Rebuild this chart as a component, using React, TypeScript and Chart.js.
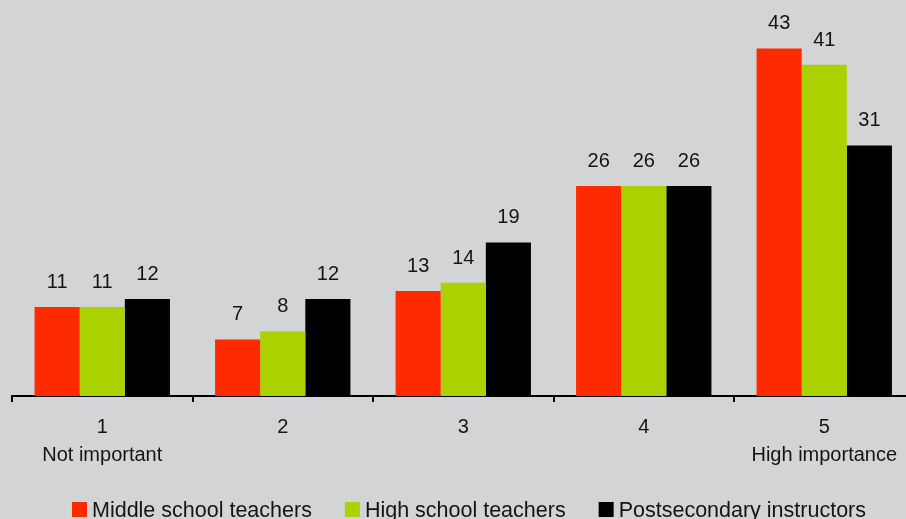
import React, { useEffect, useRef } from "react";
import { Chart, registerables } from "chart.js";

Chart.register(...registerables);

const categories: string[][] = [["1", "Not important"], ["2"], ["3"], ["4"], ["5", "High importance"]];
const seriesNames = ["Middle school teachers", "High school teachers", "Postsecondary instructors"];
const middleSchool = [11, 7, 13, 26, 43];
const highSchool = [11, 8, 14, 26, 41];
const postsecondary = [12, 12, 19, 26, 31];
const seriesColors = ["#ff2a00", "#aad200", "#000000"];

const FONT = '"Liberation Sans", Arial, Helvetica, sans-serif';
const BG = "#d3d4d6";
const TEXT = "#141414";

const valueLabels = {
  id: "valueLabels",
  afterDatasetsDraw(chart: any) {
    const ctx = chart.ctx;
    ctx.save();
    ctx.font = `20px ${FONT}`;
    ctx.fillStyle = TEXT;
    ctx.textAlign = "center";
    ctx.textBaseline = "alphabetic";
    chart.data.datasets.forEach((ds: any, i: number) => {
      const meta = chart.getDatasetMeta(i);
      meta.data.forEach((el: any, j: number) => {
        ctx.fillText(String(ds.data[j]), el.x, el.y - 19);
      });
    });
    ctx.restore();
  },
};

const bottomLegend = {
  id: "bottomLegend",
  afterDraw(chart: any) {
    const ctx = chart.ctx;
    ctx.save();
    ctx.font = `21.5px ${FONT}`;
    ctx.textBaseline = "alphabetic";
    ctx.textAlign = "left";
    const box = 15;
    const gapBoxText = 5;
    const gapItems = 33;
    const items = chart.data.datasets.map((ds: any) => ({
      label: ds.label,
      color: ds.backgroundColor,
      w: ctx.measureText(ds.label).width,
    }));
    const total =
      items.reduce((s: number, it: any) => s + box + gapBoxText + it.w, 0) + gapItems * (items.length - 1);
    let x = 469 - total / 2;
    const boxTop = 502;
    items.forEach((it: any) => {
      ctx.fillStyle = it.color;
      ctx.fillRect(x, boxTop, box, box);
      ctx.fillStyle = TEXT;
      ctx.fillText(it.label, x + box + gapBoxText, boxTop + box - 0.5);
      x += box + gapBoxText + it.w + gapItems;
    });
    ctx.restore();
  },
};

export default function App() {
  const ref = useRef<HTMLCanvasElement | null>(null);
  useEffect(() => {
    document.body.style.margin = "0";
    document.body.style.background = BG;
    const canvas = ref.current!;
    const chart = new Chart(canvas, {
      type: "bar",
      data: {
        labels: categories,
        datasets: [
          { label: seriesNames[0], data: middleSchool, backgroundColor: seriesColors[0] },
          { label: seriesNames[1], data: highSchool, backgroundColor: seriesColors[1] },
          { label: seriesNames[2], data: postsecondary, backgroundColor: seriesColors[2] },
        ],
      },
      options: {
        responsive: false,
        animation: false,
        devicePixelRatio: 1,
        layout: { padding: { left: 12, right: 5.5, top: 0, bottom: 39 } },
        datasets: { bar: { categoryPercentage: 0.75, barPercentage: 1.0, borderWidth: 0 } } as any,
        plugins: { legend: { display: false }, tooltip: { enabled: false } },
        scales: {
          x: {
            offset: true,
            grid: {
              display: true,
              drawOnChartArea: false,
              drawTicks: true,
              tickLength: 6,
              tickWidth: 2,
              tickColor: "#000",
              color: "#000",
              lineWidth: 2,
              offset: true,
            },
            border: { display: true, color: "#000", width: 2 },
            ticks: {
              color: TEXT,
              font: { family: FONT, size: 20, lineHeight: 1.4 },
              padding: 11,
              maxRotation: 0,
              autoSkip: false,
            },
          },
          y: { display: false, min: 0, max: 49 },
        },
      },
      plugins: [valueLabels, bottomLegend],
    });
    return () => chart.destroy();
  }, []);
  return (
    <div
      style={{
        position: "fixed",
        left: 0,
        top: 0,
        width: 906,
        height: 519,
        overflow: "hidden",
        background: BG,
      }}
    >
      <canvas ref={ref} width={920} height={519} style={{ display: "block", width: 920, height: 519 }} />
    </div>
  );
}
